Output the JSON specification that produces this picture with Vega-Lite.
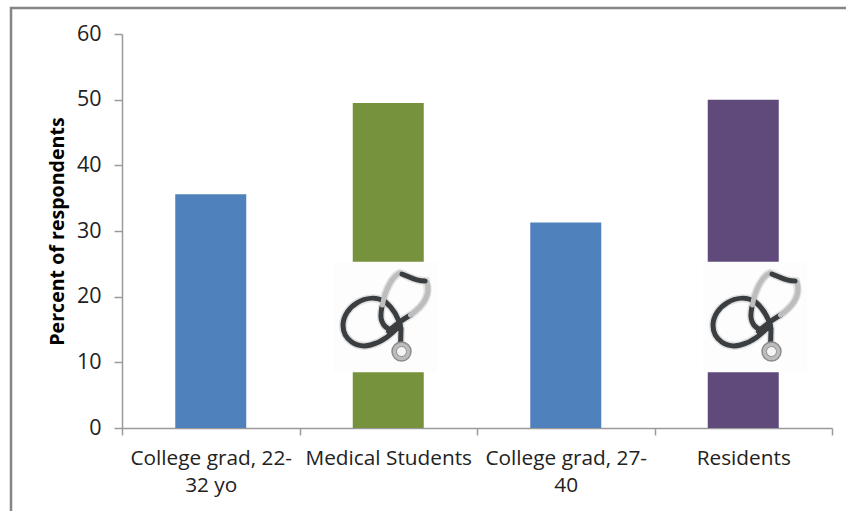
{
  "$schema": "https://vega.github.io/schema/vega-lite/v6.json",
  "width": 838,
  "height": 506,
  "padding": {"left": 11, "top": 8, "right": 0, "bottom": 0},
  "autosize": {"type": "none"},
  "background": "white",
  "config": {"font": "Open Sans"},
  "view": {"stroke": "#858585", "strokeWidth": 2.5},
  "data": {
    "values": [
      {"group": "College grad, 22-32 yo", "percent": 35.6, "colour": "#4f81bd"},
      {"group": "Medical Students", "percent": 49.5, "colour": "#76923c", "badgeLow": 8.5, "badgeHigh": 25.3, "badgeMid": 16.9},
      {"group": "College grad, 27-40", "percent": 31.3, "colour": "#4f81bd"},
      {"group": "Residents", "percent": 50, "colour": "#604a7b", "badgeLow": 8.5, "badgeHigh": 25.3, "badgeMid": 16.9}
    ]
  },
  "encoding": {
    "x": {
      "field": "group",
      "type": "nominal",
      "sort": null,
      "scale": {"range": [111, 821], "paddingInner": 0, "paddingOuter": 0},
      "axis": {
        "title": null,
        "labelAngle": 0,
        "labelFontSize": 20.8,
        "labelColor": "#222222",
        "labelPadding": 13,
        "labelLimit": 0,
        "labelExpr": "datum.value == 'College grad, 22-32 yo' ? ['College grad, 22-', '32 yo'] : datum.value == 'College grad, 27-40' ? ['College grad, 27-', '40'] : datum.value",
        "labelLineHeight": 27,
        "domainColor": "#9a9a9a",
        "domainWidth": 1.5,
        "ticks": true,
        "tickBand": "extent",
        "tickExtra": true,
        "tickColor": "#9a9a9a",
        "tickWidth": 1.5,
        "tickSize": 7,
        "offset": -86
      }
    }
  },
  "layer": [
    {
      "mark": {"type": "bar", "size": 71},
      "encoding": {
        "y": {
          "field": "percent",
          "type": "quantitative",
          "scale": {"domain": [0, 60], "range": [420, 26]},
          "axis": {
            "title": "Percent of respondents",
            "titleFontSize": 19.6,
            "titleFontWeight": "bold",
            "titleColor": "#000000",
            "titlePadding": 9,
            "values": [0, 10, 20, 30, 40, 50, 60],
            "labelFontSize": 21.5,
            "labelColor": "#222222",
            "labelPadding": 13,
            "domainColor": "#9a9a9a",
            "domainWidth": 1.5,
            "tickColor": "#9a9a9a",
            "tickSize": 8,
            "tickWidth": 1.5,
            "grid": false,
            "offset": -111
          }
        },
        "color": {"field": "colour", "type": "nominal", "scale": null, "legend": null}
      }
    },
    {
      "mark": {"type": "bar", "size": 104, "color": "#fdfdfd"},
      "encoding": {
        "y": {"field": "badgeLow", "type": "quantitative"},
        "y2": {"field": "badgeHigh"},
        "xOffset": {"field": "group", "type": "nominal", "scale": {"type": "ordinal", "domain": ["Medical Students", "Residents"], "range": [78, 108]}}
      }
    },
    {
      "mark": {
        "type": "point",
        "filled": false,
        "stroke": "#c9c9c9",
        "strokeWidth": 8,
        "strokeOpacity": 0.55,
        "strokeCap": "round",
        "size": 10000,
        "opacity": 1,
        "shape": "M0.07 0.29 C0.13 0.23 0.27 0.1 0.51 -0.04 M0 -0.31 C-0.36 -0.51 -0.83 -0.21 -0.84 0.16 C-0.84 0.46 -0.56 0.63 -0.29 0.56 C-0.03 0.49 0.14 0.33 0.31 0.16 M0 -0.31 C0.17 -0.17 0.27 0 0.32 0.23 L0.31 0.62 M-0.06 -0.21 C-0.09 -0.06 -0.09 0.03 -0.06 0.09 C0 0.24 0.13 0.29 0.31 0.21 M-0.05 -0.24 C0 -0.55 0.15 -0.82 0.3 -0.88 C0.47 -0.82 0.58 -0.72 0.82 -0.72 C0.9 -0.5 0.85 -0.28 0.51 -0.04"
      },
      "encoding": {
        "y": {"field": "badgeMid", "type": "quantitative"},
        "xOffset": {"field": "group", "type": "nominal", "scale": {"type": "ordinal", "domain": ["Medical Students", "Residents"], "range": [88.5, 118.5]}}
      }
    },
    {
      "mark": {
        "type": "point",
        "filled": false,
        "stroke": "#3a3e40",
        "strokeWidth": 5,
        "strokeCap": "round",
        "size": 10000,
        "opacity": 1,
        "shape": "M0.07 0.29 C0.13 0.23 0.27 0.1 0.51 -0.04 M0 -0.31 C-0.36 -0.51 -0.83 -0.21 -0.84 0.16 C-0.84 0.46 -0.56 0.63 -0.29 0.56 C-0.03 0.49 0.14 0.33 0.31 0.16 M0 -0.31 C0.17 -0.17 0.27 0 0.32 0.23 L0.31 0.62 M-0.06 -0.21 C-0.09 -0.06 -0.09 0.03 -0.06 0.09 C0 0.24 0.13 0.29 0.31 0.21"
      },
      "encoding": {
        "y": {"field": "badgeMid", "type": "quantitative"},
        "xOffset": {"field": "group", "type": "nominal", "scale": {"type": "ordinal", "domain": ["Medical Students", "Residents"], "range": [88.5, 118.5]}}
      }
    },
    {
      "mark": {
        "type": "point",
        "filled": false,
        "stroke": "#bdbdbd",
        "strokeWidth": 5,
        "strokeCap": "round",
        "size": 10000,
        "opacity": 1,
        "shape": "M-0.05 -0.24 C0 -0.55 0.15 -0.82 0.3 -0.88 M0.84 -0.7 C0.9 -0.5 0.85 -0.28 0.51 -0.04"
      },
      "encoding": {
        "y": {"field": "badgeMid", "type": "quantitative"},
        "xOffset": {"field": "group", "type": "nominal", "scale": {"type": "ordinal", "domain": ["Medical Students", "Residents"], "range": [88.5, 118.5]}}
      }
    },
    {
      "mark": {
        "type": "point",
        "filled": false,
        "stroke": "#3a3e40",
        "strokeWidth": 5,
        "strokeCap": "round",
        "size": 10000,
        "opacity": 1,
        "shape": "M0.34 -0.86 C0.47 -0.82 0.58 -0.72 0.8 -0.72"
      },
      "encoding": {
        "y": {"field": "badgeMid", "type": "quantitative"},
        "xOffset": {"field": "group", "type": "nominal", "scale": {"type": "ordinal", "domain": ["Medical Students", "Residents"], "range": [88.5, 118.5]}}
      }
    },
    {
      "mark": {
        "type": "point",
        "filled": true,
        "color": "#bcbcbc",
        "stroke": "#8c8c8c",
        "strokeWidth": 1.5,
        "size": 10000,
        "opacity": 1,
        "shape": "M0.52 0.69 A0.19 0.19 0 1 1 0.14 0.69 A0.19 0.19 0 1 1 0.52 0.69 Z"
      },
      "encoding": {
        "y": {"field": "badgeMid", "type": "quantitative"},
        "xOffset": {"field": "group", "type": "nominal", "scale": {"type": "ordinal", "domain": ["Medical Students", "Residents"], "range": [88.5, 118.5]}}
      }
    },
    {
      "mark": {
        "type": "point",
        "filled": true,
        "color": "#f4f4f4",
        "stroke": "#8f8f8f",
        "strokeWidth": 1,
        "size": 10000,
        "opacity": 1,
        "shape": "M0.43 0.69 A0.1 0.1 0 1 1 0.23 0.69 A0.1 0.1 0 1 1 0.43 0.69 Z"
      },
      "encoding": {
        "y": {"field": "badgeMid", "type": "quantitative"},
        "xOffset": {"field": "group", "type": "nominal", "scale": {"type": "ordinal", "domain": ["Medical Students", "Residents"], "range": [88.5, 118.5]}}
      }
    }
  ]
}
